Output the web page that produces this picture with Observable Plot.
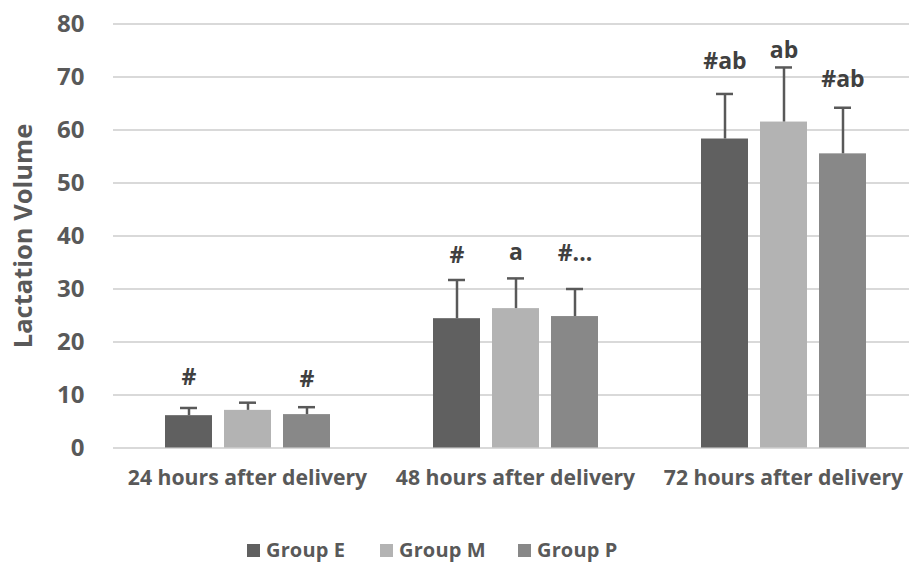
<!DOCTYPE html>
<html>
<head>
<meta charset="utf-8">
<script src="https://cdn.jsdelivr.net/npm/d3@7"></script>
<script src="https://cdn.jsdelivr.net/npm/@observablehq/plot@0.6"></script>
<style>
  html, body { margin: 0; padding: 0; background: #fff; }
  body { width: 909px; font-family: "Open Sans", sans-serif; }
  #chart svg { display: block; }
  #legend { position: relative; height: 64px; }
  .item { position: absolute; top: 39px; height: 22px; line-height: 22px; display: flex; align-items: center; font-size: 20px; letter-spacing: 0.15px; font-weight: 700; color: #595959; white-space: nowrap; }
  .swatch { width: 13px; height: 13px; margin-right: 6px; }
</style>
</head>
<body>
<div id="chart"></div>
<div id="legend"></div>
<script>
// Time points and groups
const categories = ["24 hours after delivery", "48 hours after delivery", "72 hours after delivery"];
const groups = ["Group E", "Group M", "Group P"];
const colors = ["#606060", "#b3b3b3", "#888888"];

// Mean lactation volume per group, in time point order
const groupE = [6.1, 24.4, 58.3];
const groupM = [7.1, 26.3, 61.5];
const groupP = [6.3, 24.8, 55.5];

// Standard deviations
const sdE = [1.45, 7.3, 8.5];
const sdM = [1.45, 5.7, 10.3];
const sdP = [1.4, 5.2, 8.7];

// Significance markers and the value at which each is written
const markE = ["#", "#", "#ab"];
const markM = ["", "a", "ab"];
const markP = ["#", "#...", "#ab"];
const markYE = [13.3, 36.3, 72.9];
const markYM = [0, 36.8, 75.0];
const markYP = [12.9, 36.7, 69.5];

const yTicks = [0, 10, 20, 30, 40, 50, 60, 70, 80];

const means = [groupE, groupM, groupP];
const sds = [sdE, sdM, sdP];
const marks = [markE, markM, markP];
const markYs = [markYE, markYM, markYP];

const rows = [];
categories.forEach((cat, i) => {
  groups.forEach((g, j) => {
    rows.push({cat, group: g, value: means[j][i], sd: sds[j][i], mark: marks[j][i], markY: markYs[j][i]});
  });
});

const chart = Plot.plot({
  width: 909,
  height: 500,
  marginLeft: 112,
  marginRight: -9,
  marginTop: 23.5,
  marginBottom: 52.5,
  style: {fontFamily: "Open Sans", background: "#fff"},
  fx: {domain: categories, paddingInner: 0, paddingOuter: 0, label: null},
  x: {domain: groups, paddingInner: 0.21, paddingOuter: 0.863, axis: null},
  y: {domain: [0, 80], ticks: yTicks, label: null},
  color: {domain: groups, range: colors},
  marks: [
    Plot.gridY(yTicks, {stroke: "#d9d9d9", strokeOpacity: 1, strokeWidth: 2}),
    Plot.barY(rows, {fx: "cat", x: "group", y: "value", fill: "group"}),
    Plot.ruleX(rows, {fx: "cat", x: "group", y1: "value", y2: d => d.value + d.sd, stroke: "#595959", strokeWidth: 2.5}),
    Plot.tickY(rows, {fx: "cat", x: "group", y: d => d.value + d.sd, stroke: "#595959", strokeWidth: 2.5, insetLeft: 15, insetRight: 15}),
    Plot.text(rows.filter(d => d.mark), {fx: "cat", x: "group", y: "markY", text: "mark", fontSize: 23, fontWeight: 700, fill: "#404040"}),
    Plot.axisY({ticks: yTicks, tickSize: 0, tickPadding: 29, fontSize: 24, fontWeight: 700, fill: "#595959", label: null}),
    Plot.axisY({ticks: [], tickSize: 0, fontSize: 25.5, fontWeight: 700, fill: "#595959",
      label: "Lactation Volume", labelAnchor: "center", labelArrow: "none", labelOffset: 100}),
    Plot.axisFx({anchor: "bottom", tickSize: 0, tickPadding: 22, fontSize: 21.2, fontWeight: 700, fill: "#595959", label: null})
  ]
});
document.getElementById("chart").appendChild(chart);

// Legend below the chart
const legend = document.getElementById("legend");
const lefts = [247, 380, 518];
groups.forEach((g, i) => {
  const item = document.createElement("div");
  item.className = "item";
  item.style.left = lefts[i] + "px";
  const sw = document.createElement("span");
  sw.className = "swatch";
  sw.style.background = colors[i];
  const tx = document.createElement("span");
  tx.textContent = g;
  item.appendChild(sw);
  item.appendChild(tx);
  legend.appendChild(item);
});
</script>
</body>
</html>
